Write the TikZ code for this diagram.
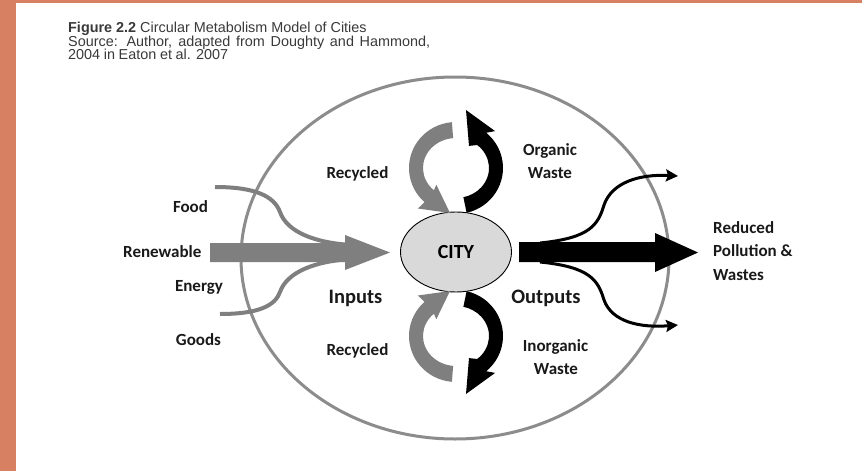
\documentclass[tikz,border=0pt]{standalone}
\usepackage{fontspec}
\usetikzlibrary{shapes.geometric,arrows.meta}
\newfontfamily\lblfont{Carlito}
\newfontfamily\ttlfont{Liberation Sans}
\definecolor{frameorange}{HTML}{D88062}
\definecolor{ellgray}{HTML}{8C8C8C}
\definecolor{flowgray}{HTML}{7F7F7F}
\definecolor{cityfill}{HTML}{D9D9D9}
\definecolor{titletext}{HTML}{3A3A3A}
\tikzset{
  lbl/.style={inner sep=0pt, anchor=base, font=\lblfont\bfseries\fontsize{17}{20}\selectfont, text=black!90},
  biglbl/.style={inner sep=0pt, anchor=base, font=\lblfont\bfseries\fontsize{20.5}{24}\selectfont, text=black!90},
  ttl/.style={inner sep=0pt, anchor=base west, font=\ttlfont\fontsize{14.4}{16}\selectfont, text=titletext},
  incurve/.style={draw=flowgray, line width=4pt},
  outcurve/.style={draw=black, line width=3pt, -{Stealth[length=12pt,width=12pt,inset=2pt]}},
}
\begin{document}
\begin{tikzpicture}[x=1pt,y=-1pt]
\useasboundingbox (0,0) rectangle (862,471);
\fill[white] (0,0) rectangle (862,471);
\fill[frameorange] (0,0) rectangle (16,471);
\fill[frameorange] (0,0) rectangle (862,3);

% title
\node[ttl] (t1) at (68,32) {\textbf{Figure 2.2} Circular Metabolism Model of Cities};
\node[ttl] (t2) at (68,46) {\makebox[362pt][s]{Source: Author, adapted from Doughty and Hammond,}};
\node[ttl] (t3) at (68,59.5) {\makebox[160pt][s]{2004 in Eaton et al. 2007}};

% boundary ellipse
\node[draw=ellgray, line width=3pt, ellipse, minimum width=428pt, minimum height=362pt, inner sep=0pt] (bound) at (455,258) {};

% input curves
\draw[incurve] (215,187) .. controls (255,187) and (274,196) .. (280,212) .. controls (287,232) and (315,243) .. (352,245);
\draw[incurve] (220,314) .. controls (258,314) and (275,306) .. (280,292) .. controls (287,272) and (315,261) .. (352,259);
% input arrow
\fill[flowgray] (210,243) -- (345,243) -- (345,235) -- (390,252.5) -- (345,270) -- (345,262) -- (210,262) -- cycle;

% city
\node[draw=black, line width=0.9pt, ellipse, fill=cityfill, minimum width=111pt, minimum height=80pt, inner sep=0pt,
      font=\lblfont\bfseries\fontsize{20}{24}\selectfont] (city) at (456,252) {CITY};

% output curves and arrow
\draw[outcurve] (540,243) .. controls (590,238) and (598,225) .. (604,205) .. controls (612,182) and (640,174) .. (678,176);
\draw[outcurve] (540,262) .. controls (590,267) and (598,280) .. (604,300) .. controls (612,322) and (640,328) .. (678,325);
\fill[black] (519,242) -- (655,242) -- (655,233) -- (698,252.5) -- (655,272) -- (655,262) -- (519,262) -- cycle;

% recycling arrows (top)
\begin{scope}[shift={(456,168)}]
\fill[flowgray] (-95:47 and 46) arc[start angle=-95, end angle=-228, x radius=47, y radius=46]
  -- (-38.1,40.5) -- (-6,45) -- (-19.7,16.7) -- (-228:33 and 30)
  arc[start angle=-228, end angle=-95, x radius=33, y radius=30] -- cycle;
\fill[black] (77:47 and 46) arc[start angle=77, end angle=-50, x radius=47, y radius=46]
  -- (39.1,-36.9) -- (10,-58) -- (13.0,-22.1) -- (-50:33 and 30)
  arc[start angle=-50, end angle=77, x radius=33, y radius=30] -- cycle;
\end{scope}
% recycling arrows (bottom)
\begin{scope}[shift={(456,336)}, yscale=-1]
\fill[flowgray] (-95:47 and 46) arc[start angle=-95, end angle=-228, x radius=47, y radius=46]
  -- (-38.1,40.5) -- (-6,45) -- (-19.7,16.7) -- (-228:33 and 30)
  arc[start angle=-228, end angle=-95, x radius=33, y radius=30] -- cycle;
\fill[black] (77:47 and 46) arc[start angle=77, end angle=-50, x radius=47, y radius=46]
  -- (39.1,-36.9) -- (10,-58) -- (13.0,-22.1) -- (-50:33 and 30)
  arc[start angle=-50, end angle=77, x radius=33, y radius=30] -- cycle;
\end{scope}

% labels
\node[lbl] (food) at (190.5,212) {Food};
\node[lbl, anchor=base west] (renew) at (123,257) {Renewable};
\node[lbl] (energy) at (199,291) {Energy};
\node[lbl] (goods) at (198.5,345) {Goods};
\node[lbl] (rec1) at (357.5,178) {Recycled};
\node[biglbl] (inputs) at (355.5,303) {Inputs};
\node[lbl] (rec2) at (357.5,355) {Recycled};
\node[lbl] (org1) at (550,155) {Organic};
\node[lbl] (org2) at (550,178.5) {Waste};
\node[biglbl] (outputs) at (546,303) {Outputs};
\node[lbl] (inorg1) at (555.5,351) {Inorganic};
\node[lbl] (inorg2) at (556,374.5) {Waste};
\node[lbl, anchor=base west] (red1) at (713,233) {Reduced};
\node[lbl, anchor=base west] (red2) at (713,256.5) {Pollution \&};
\node[lbl, anchor=base west] (red3) at (713,280) {Wastes};
\end{tikzpicture}
\end{document}
